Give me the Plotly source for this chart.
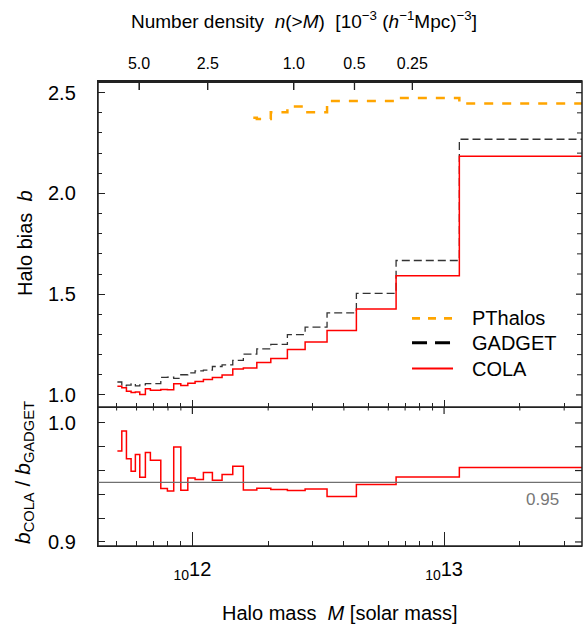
import plotly.graph_objects as go

# ---------------- data ----------------
# halo-mass bin edges [solar mass]
mass_edges = [5.035e11, 5.243e11, 5.47e11, 5.708e11, 5.936e11, 6.18e11, 6.505e11,
              6.81e11, 7.49e11, 7.957e11, 8.43e11, 8.995e11, 9.59e11, 1.025e12,
              1.106e12, 1.201e12, 1.312e12, 1.447e12, 1.594e12, 1.803e12, 2.049e12,
              2.385e12, 2.805e12, 3.428e12, 4.483e12, 6.447e12, 1.15e13, 3.6e13]

bias_cola = [1.043, 1.035, 1.018, 1.012, 1.014, 1.002, 1.030, 1.023, 1.027, 1.026,
             1.055, 1.047, 1.058, 1.066, 1.076, 1.086, 1.099, 1.128, 1.134, 1.161,
             1.181, 1.225, 1.262, 1.320, 1.426, 1.591, 2.184]

bias_gadget = [1.064, 1.045, 1.049, 1.055, 1.045, 1.050, 1.056, 1.056, 1.087, 1.088,
               1.082, 1.100, 1.109, 1.119, 1.123, 1.141, 1.149, 1.171, 1.202, 1.228,
               1.251, 1.299, 1.336, 1.407, 1.504, 1.667, 2.269]

ratio_cola_gadget = [0.9765, 0.9933, 0.9700, 0.9594, 0.9734, 0.9544, 0.9751, 0.9687,
                     0.9449, 0.9429, 0.9798, 0.9434, 0.9538, 0.9524, 0.9583, 0.9518,
                     0.9566, 0.9636, 0.9437, 0.9451, 0.9440, 0.9432, 0.9445, 0.9381,
                     0.9482, 0.9546, 0.9625]

pthalos_edges = [1.746e12, 1.803e12, 2.049e12, 2.385e12, 2.805e12, 3.428e12,
                 4.483e12, 6.447e12, 1.15e13, 3.6e13]
bias_pthalos = [2.376, 2.370, 2.403, 2.431, 2.403, 2.459, 2.459, 2.474, 2.446]

ratio_reference = 0.95

# top axis: number density n(>M) [1e-3 (h^-1 Mpc)^-3] and the mass it corresponds to
density_tick_labels = ["5.0", "2.5", "1.0", "0.5", "0.25"]
density_tick_mass = [6.14e11, 1.151e12, 2.529e12, 4.406e12, 7.48e12]

mass_tick_vals = [1e12, 1e13]
mass_tick_text = ["<sub>10</sub>12", "<sub>10</sub>13"]

bias_major_ticks = [1.0, 1.5, 2.0, 2.5]
bias_minor_ticks = [1.1, 1.2, 1.3, 1.4, 1.6, 1.7, 1.8, 1.9, 2.1, 2.2, 2.3, 2.4]
ratio_ticks = [0.9, 0.92, 0.94, 0.96, 0.98, 1.0]

# ---------------- styling ----------------
FONT = "Liberation Sans, Arial, sans-serif"
AX = "#222222"
RED = "#ff0000"
ORANGE = "#ffa500"
BLACK = "#333333"
XRANGE = [11.625, 13.548]
minor_mass = [k * 10 ** e for e in (11, 12, 13) for k in range(2, 10)]
PLOT_W, PLOT_H, RATIO_H = 484, 465, 139
SPLIT = RATIO_H / PLOT_H
TOP = 1 - 1.0 / PLOT_H          # top frame drawn just inside the plot area


def step(edges, vals):
    return list(edges), list(vals) + [vals[-1]]


fig = go.Figure()

x, y = step(pthalos_edges, bias_pthalos)
fig.add_trace(go.Scatter(x=x, y=y, xaxis="x2", yaxis="y2", mode="lines", line_shape="hv",
                         line=dict(color=ORANGE, width=2.5, dash="9px,9px"),
                         name="PThalos", showlegend=False))
x, y = step(mass_edges, bias_gadget)
fig.add_trace(go.Scatter(x=x, y=y, xaxis="x2", yaxis="y2", mode="lines", line_shape="hv",
                         line=dict(color=BLACK, width=1.3, dash="8px,4px"),
                         name="GADGET", showlegend=False))
x, y = step(mass_edges, bias_cola)
fig.add_trace(go.Scatter(x=x, y=y, xaxis="x2", yaxis="y2", mode="lines", line_shape="hv",
                         line=dict(color=RED, width=1.5),
                         name="COLA", showlegend=False))
x, y = step(mass_edges, ratio_cola_gadget)
fig.add_trace(go.Scatter(x=x, y=y, xaxis="x", yaxis="y", mode="lines", line_shape="hv",
                         line=dict(color=RED, width=1.5),
                         name="COLA/GADGET", showlegend=False))
# empty trace so the overlaying (top) density axis gets drawn
fig.add_trace(go.Scatter(x=[None], y=[None], xaxis="x3", yaxis="y2", mode="lines",
                         showlegend=False, hoverinfo="skip"))

common_x = dict(type="log", range=XRANGE, showline=True, linecolor=AX, linewidth=1.4,
                ticks="inside", tickcolor=AX, tickwidth=1.2, showgrid=False, zeroline=False)

fig.update_layout(
    width=586, height=625,
    margin=dict(l=98, r=4, t=81, b=79),
    paper_bgcolor="white", plot_bgcolor="white",
    font=dict(family=FONT, size=20, color="black"),
    showlegend=False,
    xaxis=dict(**common_x, anchor="y", ticklen=14,
               tickvals=mass_tick_vals, ticktext=mass_tick_text,
               tickfont=dict(size=20), ticklabelstandoff=5,
               minor=dict(tickmode="array", tickvals=minor_mass, ticks="inside",
                          ticklen=5, tickcolor=AX, tickwidth=1)),
    xaxis2=dict(**common_x, anchor="y2", ticklen=7,
                tickvals=mass_tick_vals, showticklabels=False,
                minor=dict(tickmode="array", tickvals=minor_mass, ticks="inside",
                           ticklen=3.5, tickcolor=AX, tickwidth=1)),
    xaxis3=dict(**common_x, anchor="y2", overlaying="x2", side="top", ticklen=9,
                tickvals=density_tick_mass, ticktext=density_tick_labels,
                tickfont=dict(size=16), ticklabelstandoff=4),
    yaxis=dict(domain=[0, SPLIT], range=[0.8966, 1.0134], showline=True, linecolor=AX,
               linewidth=1.4, ticks="inside", ticklen=7, tickcolor=AX,
               tickwidth=1.2, tickvals=ratio_ticks,
               ticktext=["0.9", "", "", "", "", "1.0"], tickfont=dict(size=20),
               ticklabelstandoff=17, showgrid=False, zeroline=False),
    yaxis2=dict(domain=[SPLIT, 1], range=[0.940, 2.558], showline=True, linecolor=AX,
                linewidth=1.4, ticks="inside", ticklen=7, tickcolor=AX,
                tickwidth=1.2, tick0=0, dtick=0.5, tickformat=".1f", tickfont=dict(size=20),
                ticklabelstandoff=17, showgrid=False, zeroline=False,
                minor=dict(dtick=0.1, tick0=0, ticks="inside", ticklen=3.5,
                           tickcolor=AX, tickwidth=1)),
)

# frame (paper-referenced so it is never clipped) and panel divider
fig.add_shape(type="rect", xref="paper", yref="paper", x0=0, x1=1, y0=0, y1=1,
              line=dict(color=AX, width=1.5), fillcolor="rgba(0,0,0,0)", layer="above")
fig.add_shape(type="line", xref="paper", yref="paper", x0=0, x1=1, y0=TOP, y1=TOP,
              line=dict(color=AX, width=2), layer="above")
fig.add_shape(type="line", xref="paper", yref="paper", x0=0, x1=1, y0=SPLIT, y1=SPLIT,
              line=dict(color=AX, width=1.5), layer="above")

# inward tick marks on the top edges and right edges of the panels
for m in density_tick_mass:
    fig.add_shape(type="line", xref="x2", yref="paper", x0=m, x1=m,
                  y0=TOP, y1=1 - 9 / PLOT_H, line=dict(color=AX, width=1.3), layer="above")
for m in mass_tick_vals:
    fig.add_shape(type="line", xref="x", yref="paper", x0=m, x1=m,
                  y0=SPLIT, y1=SPLIT - 7 / PLOT_H, line=dict(color=AX, width=1.2))
for m in minor_mass:
    fig.add_shape(type="line", xref="x", yref="paper", x0=m, x1=m,
                  y0=SPLIT, y1=SPLIT - 3.5 / PLOT_H, line=dict(color=AX, width=1))
for v in bias_major_ticks:
    fig.add_shape(type="line", xref="paper", yref="y2", x0=1, x1=1 - 6 / PLOT_W,
                  y0=v, y1=v, line=dict(color=AX, width=1.2))
for v in bias_minor_ticks:
    fig.add_shape(type="line", xref="paper", yref="y2", x0=1, x1=1 - 5 / PLOT_W,
                  y0=v, y1=v, line=dict(color=AX, width=1))
for v in ratio_ticks:
    fig.add_shape(type="line", xref="paper", yref="y", x0=1, x1=1 - 7 / PLOT_W,
                  y0=v, y1=v, line=dict(color=AX, width=1.2))

# reference line in ratio panel
fig.add_shape(type="line", xref="x domain", yref="y", x0=0, x1=1,
              y0=ratio_reference, y1=ratio_reference,
              line=dict(color="#707070", width=1.2))
fig.add_annotation(xref="paper", yref="y", x=0.919, y=0.9359, text=f"{ratio_reference:.2f}",
                   xanchor="center", yanchor="middle",
                   showarrow=False, font=dict(size=17, color="#777777"))

# axis titles
fig.add_annotation(xref="paper", yref="paper", x=0.4256, y=1.131, showarrow=False,
                   xanchor="center", yanchor="middle",
                   text="Number density  <i>n</i>(&gt;<i>M</i>)  [10<sup>\u22123</sup> "
                        "(<i>h</i><sup>\u22121</sup>Mpc)<sup>\u22123</sup>]",
                   font=dict(size=19))
fig.add_annotation(xref="paper", yref="paper", x=0.5, y=-0.145, showarrow=False,
                   xanchor="center", yanchor="middle",
                   text="Halo mass  <i>M</i> [solar mass]", font=dict(size=20))
fig.add_annotation(xref="paper", yref="paper", x=-0.1508, y=0.6516, showarrow=False,
                   xanchor="center", yanchor="middle",
                   textangle=-90, text="Halo bias  <i>b</i>", font=dict(size=20))
fig.add_annotation(xref="paper", yref="paper", x=-0.153, y=0.159, showarrow=False,
                   xanchor="center", yanchor="middle", textangle=-90,
                   text="<i>b</i><sub>COLA</sub> / <i>b</i><sub>GADGET</sub>",
                   font=dict(size=21))

# legend (drawn in the panel's upper-right empty region)
legend_items = [("PThalos", ORANGE, 2.7, "8px,8px", 0.4897),
                ("GADGET", "black", 3.0, "15px,8px", 0.4372),
                ("COLA", RED, 2.0, "solid", 0.3815)]
for name, color, width, dash, yy in legend_items:
    fig.add_shape(type="line", xref="paper", yref="paper", x0=0.6488, x1=0.7335,
                  y0=yy, y1=yy, line=dict(color=color, width=width, dash=dash))
    fig.add_annotation(xref="paper", yref="paper", x=0.7686, y=yy, xanchor="left",
                       yanchor="middle", showarrow=False, text=name, font=dict(size=20))

# the page's default body margin would push the figure off the window
fig.write_html("out.html", config={"displayModeBar": False},
               post_script="document.body.style.margin='0';"
                           "document.body.style.overflow='hidden';")
